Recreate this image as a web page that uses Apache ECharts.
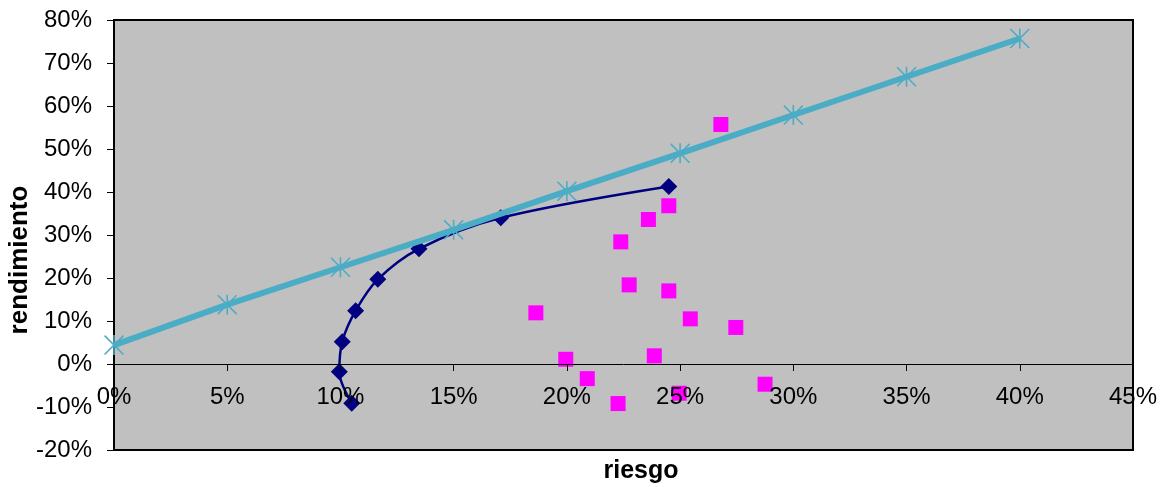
<!DOCTYPE html>
<html>
<head>
<meta charset="utf-8">
<script src="https://cdn.jsdelivr.net/npm/echarts@6/dist/echarts.min.js"></script>
<style>
html,body{margin:0;padding:0;background:#fff;}
#chart{width:1165px;height:487px;}
</style>
</head>
<body>
<div id="chart"></div>
<script>
// Capital market line (riesgo %, rendimiento %)
const cmlRisk = [0, 5, 10, 15, 20, 25, 30, 35, 40];
const cmlReturn = [4.4, 13.8, 22.5, 31.2, 40.2, 49.0, 57.9, 66.8, 75.7];

// Efficient frontier
const frontierRisk = [10.5, 9.95, 10.08, 10.67, 11.65, 13.47, 17.08, 24.5];
const frontierReturn = [-9.1, -1.8, 5.2, 12.4, 19.7, 26.8, 34.0, 41.3];

// Individual assets
const assetRisk = [18.63, 19.95, 20.9, 22.26, 22.38, 22.75, 23.6, 24.5, 24.5, 23.86, 24.96, 25.45, 27.46, 28.75, 26.8];
const assetReturn = [11.9, 1.1, -3.4, -9.2, 28.4, 18.4, 33.6, 36.8, 17.0, 1.9, -6.8, 10.5, 8.5, -4.7, 55.7];

// Axes
const xMin = 0, xMax = 45, xStep = 5;
const yMin = -20, yMax = 80, yStep = 10;
const xTitle = 'riesgo';
const yTitle = 'rendimiento';

const zip = (a, b) => a.map((v, i) => [v, b[i]]);

const asterisk = 'path://M9.2 0 L10.8 0 L10.8 20 L9.2 20 Z M0 1.1 L1.1 0 L20 18.9 L18.9 20 Z M18.9 0 L20 1.1 L1.1 20 L0 18.9 Z';

const gridTop = 20, gridHeight = 430;
// place the x axis on the zero line of the y axis
const zeroOffset = -gridHeight * (0 - yMin) / (yMax - yMin);

const chart = echarts.init(document.getElementById('chart'), null, {renderer: 'canvas'});
const font = 'Liberation Sans, Arial, sans-serif';

chart.setOption({
  animation: false,
  backgroundColor: '#ffffff',
  grid: {
    left: 114, top: gridTop, width: 1019, height: gridHeight,
    show: true, backgroundColor: '#c0c0c0', borderColor: '#000000', borderWidth: 2
  },
  xAxis: {
    type: 'value', min: xMin, max: xMax, interval: xStep, z: 10,
    position: 'bottom', offset: zeroOffset,
    axisLine: {show: true, onZero: false, lineStyle: {color: '#000', width: 1}},
    axisTick: {show: true, length: 7, lineStyle: {color: '#000'}},
    axisLabel: {formatter: '{value}%', color: '#000', fontFamily: font, fontSize: 24, margin: 21, showMinLabel: true, showMaxLabel: true},
    splitLine: {show: false}
  },
  yAxis: {
    type: 'value', min: yMin, max: yMax, interval: yStep,
    axisLine: {show: true, onZero: false, lineStyle: {color: '#000', width: 2}},
    axisTick: {show: true, length: 7, lineStyle: {color: '#000'}},
    axisLabel: {formatter: '{value}%', color: '#000', fontFamily: font, fontSize: 24, margin: 22},
    splitLine: {show: false}
  },
  graphic: [
    {type: 'text', x: 20, y: 260, rotation: Math.PI / 2,
     style: {text: yTitle, font: 'bold 26px ' + font, fill: '#000', align: 'center', verticalAlign: 'middle'},
     silent: true},
    {type: 'text', x: 641, y: 471,
     style: {text: xTitle, font: 'bold 25px ' + font, fill: '#000', align: 'center', verticalAlign: 'middle'},
     silent: true}
  ],
  series: [
    {
      type: 'scatter', name: 'activos', z: 2,
      data: zip(assetRisk, assetReturn),
      symbol: 'rect', symbolSize: 15,
      itemStyle: {color: '#ff00ff', opacity: 1}
    },
    {
      type: 'line', name: 'frontera', z: 3,
      data: zip(frontierRisk, frontierReturn),
      smooth: 0.35,
      symbol: 'diamond', symbolSize: 17, showSymbol: true,
      lineStyle: {color: '#000080', width: 2.5},
      itemStyle: {color: '#000080', borderWidth: 0}
    },
    {
      type: 'line', name: 'CML', z: 4,
      data: zip(cmlRisk, cmlReturn),
      symbol: asterisk, symbolSize: 20, showSymbol: true,
      lineStyle: {color: '#4bacc6', width: 6},
      itemStyle: {color: '#4bacc6', borderWidth: 0}
    }
  ]
});
</script>
</body>
</html>
